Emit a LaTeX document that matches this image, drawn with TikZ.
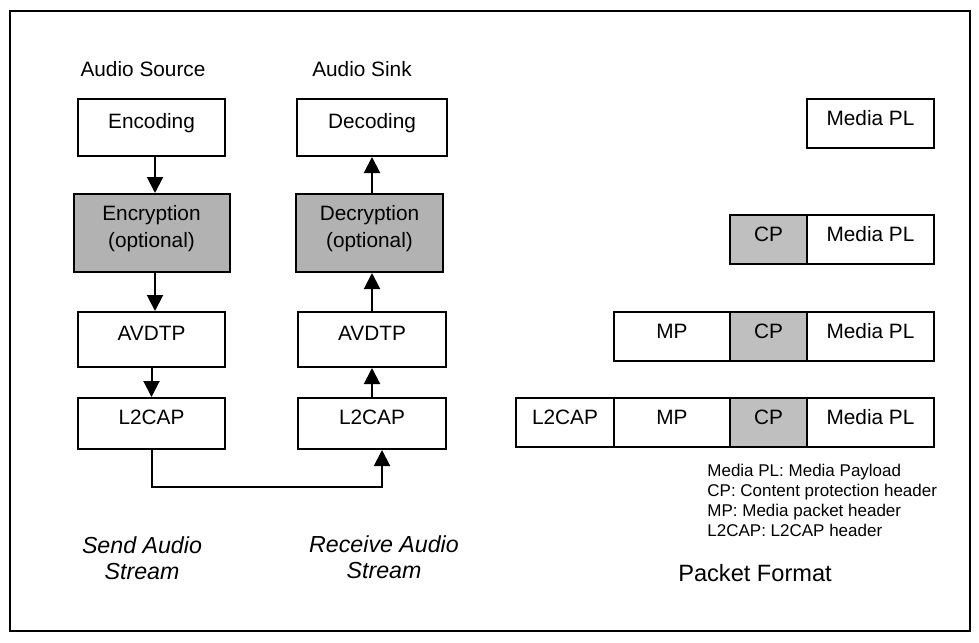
\documentclass[tikz,border=0pt]{standalone}
\usepackage{fontspec}
\setmainfont{Liberation Sans}
\usepackage{tikz}
\usetikzlibrary{arrows.meta,positioning}
\tikzstyle{layer} = [draw, line width=1pt, minimum width=73.5pt, minimum height=28.5pt, text height=8pt, text depth=7pt, font=\fontsize{10.4}{13.5}\selectfont]
\tikzstyle{secure} = [layer, fill=gray!60, align=center, minimum height=39pt, text height=20.5pt, text depth=6pt]
\tikzstyle{cell} = [draw, line width=1pt, outer sep=0pt, minimum height=24.5pt, text height=8pt, text depth=6pt, font=\fontsize{10.4}{13.5}\selectfont]
\tikzstyle{cp} = [cell, fill=gray!50, minimum width=38.5pt]
\tikzstyle{heading} = [font=\fontsize{10.4}{13.5}\selectfont]
\tikzstyle{caption} = [font=\fontsize{11.6}{13}\selectfont\itshape, align=center]
\tikzstyle{flow} = [->, line width=1pt]
\begin{document}
\begin{tikzpicture}[x=0.5pt, y=-0.5pt, >={Triangle[length=8pt,width=8pt]}]
	  \useasboundingbox (0,0) rectangle (979,642);
	  \draw [line width=1pt] (10,11) rectangle (970,631);

	  \node [heading] (source) at (143,69) {Audio Source};
	  \node [layer] (enc) at (151.5,127.5) {Encoding};
	  \node [secure, below of=enc, node distance=52.75pt, minimum width=78pt] (encr) {Encryption\\(optional)};
	  \node [layer, below of=encr, node distance=53.25pt, minimum height=27.5pt] (avdtpS) {AVDTP};
	  \node [layer, below of=avdtpS, node distance=42pt, minimum height=25.5pt] (l2capS) {L2CAP};

	  \node [heading] (sink) at (362,69) {Audio Sink};
	  \node [layer, minimum width=75pt] (dec) at (372,127.5) {Decoding};
	  \node [secure, below of=dec, node distance=52.75pt, xshift=-1.25pt] (decr) {Decryption\\(optional)};
	  \node [layer, below of=dec, node distance=106pt, minimum width=74pt, minimum height=27.5pt] (avdtpR) {AVDTP};
	  \node [layer, below of=avdtpR, node distance=42pt, minimum width=74pt, minimum height=25.5pt] (l2capR) {L2CAP};

	  \draw [flow] ([xshift=1.75pt]enc.south) -- ([xshift=1.75pt]encr.north -| enc.south);
	  \draw [flow] ([xshift=1.75pt]encr.south -| enc.south) -- ([xshift=1.75pt]avdtpS.north);
	  \draw [flow] (avdtpS.south) -- (l2capS.north);
	  \draw [flow] (l2capS.south) -- ++(0,37) -| ([xshift=5pt]l2capR.south);
	  \draw [flow] (l2capR.north) -- (avdtpR.south);
	  \draw [flow] (avdtpR.north) -- (decr.south -| avdtpR.north);
	  \draw [flow] (decr.north -| dec.south) -- (dec.south);

	  \node [caption] (send) at (142,558) {Send Audio\\Stream};
	  \node [caption] (receive) at (384,557.5) {Receive Audio\\Stream};

	  \node [cell, minimum width=63.5pt] (pl1) at (870.5,123.5) {Media PL};

	  \node [cell, minimum width=63.5pt] (pl2) at (870.5,239.5) {Media PL};
	  \node [cp, left=0pt of pl2] (cp2) {CP};

	  \node [cell, minimum width=63.5pt] (pl3) at (870.5,336) {Media PL};
	  \node [cp, left=0pt of pl3] (cp3) {CP};
	  \node [cell, minimum width=58pt, left=0pt of cp3] (mp3) {MP};

	  \node [cell, minimum width=63.5pt] (pl4) at (870.5,422) {Media PL};
	  \node [cp, left=0pt of pl4] (cp4) {CP};
	  \node [cell, minimum width=58pt, left=0pt of cp4] (mp4) {MP};
	  \node [cell, minimum width=49pt, left=0pt of mp4] (l2cap4) {L2CAP};

	  \node [anchor=north west, inner sep=0pt, align=left, font=\fontsize{8.5}{10}\selectfont] (legend) at (707,464) {Media PL: Media Payload\\CP: Content protection header\\MP: Media packet header\\L2CAP: L2CAP header};
	  \node [font=\fontsize{11.8}{14}\selectfont] (format) at (755,573) {Packet Format};
\end{tikzpicture}
\end{document}
